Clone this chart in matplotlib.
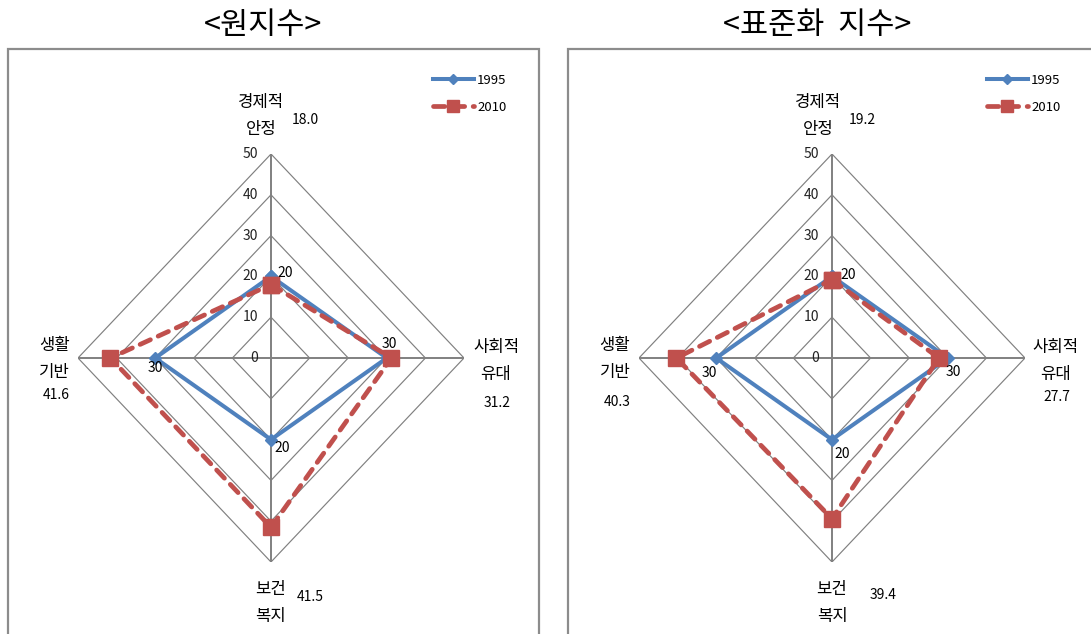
import numpy as np
import matplotlib
matplotlib.use("Agg")
import matplotlib.pyplot as plt
from matplotlib.patches import Rectangle

plt.rcParams['font.family'] = ['Noto Sans CJK KR', 'DejaVu Sans']

# ---- data ----
categories = ['경제적\n안정', '사회적\n유대', '보건\n복지', '생활\n기반']
years = ['1995', '2010']
raw_1995 = [20, 30, 20, 30]
raw_2010 = [18.0, 31.2, 41.5, 41.6]
std_1995 = [20, 30, 20, 30]
std_2010 = [19.2, 27.7, 39.4, 40.3]
ring_values = [0, 10, 20, 30, 40, 50]
panel_titles = ['<원지수>', '<표준화  지수>']

BLUE = '#4F81BD'
RED = '#C0504D'
GRID = '#808080'
FRAME = '#8C8C8C'

W, H = 1091, 634
fig = plt.figure(figsize=(W / 100, H / 100), dpi=100)
fig.patch.set_facecolor('white')


def fx(px):
    return px / W


def fy(py):
    return (H - py) / H


# spoke directions: top, right, bottom, left
angles = np.deg2rad([90, 0, -90, 180])


def to_xy(vals):
    v = np.asarray(vals, dtype=float)
    return v * np.cos(angles), v * np.sin(angles)


# per-panel layout: centre in pixels, label placements in data units
panels = [
    dict(cx=271, title_x=263, box=(8, 539), vals=(raw_1995, raw_2010),
         cat_pos=[(-2.6, 59.3), (58.3, -0.7), (0, -60.0), (-56.0, -0.2)],
         val_pos=[(8.8, 58.3), (58.5, -11.0), (10.1, -58.6), (-55.7, -9.1)],
         lab_off=[(14, 3), (3, 14), (11, -8), (0, -10)],
         legend_x=433),
    dict(cx=832, title_x=817, box=(568, 1110), vals=(std_1995, std_2010),
         cat_pos=[(-3.6, 59.3), (58.0, -0.7), (0, -60.0), (-56.2, -0.2)],
         val_pos=[(7.8, 58.3), (58.3, -9.5), (13.2, -58.1), (-55.7, -10.8)],
         lab_off=[(16, 1), (6, -14), (10, -14), (-7, -15)],
         legend_x=987),
]

RX, RY = 193, 204  # pixel length of the 50 ring, horizontal / vertical
CY = 358

for p, title in zip(panels, panel_titles):
    # panel frame
    x0, x1 = p['box']
    fig.add_artist(Rectangle((fx(x0), fy(H + 20)), fx(x1) - fx(x0), fy(49) - fy(H + 20),
                             transform=fig.transFigure, fill=False,
                             edgecolor=FRAME, linewidth=1.6, clip_on=False))
    fig.text(fx(p['title_x']), fy(25), title, ha='center', va='center',
             fontsize=22, fontweight='normal', color='black')

    ax = fig.add_axes([fx(p['cx'] - RX), fy(CY + RY), 2 * RX / W, 2 * RY / H])
    ax.set_xlim(-50, 50)
    ax.set_ylim(-50, 50)
    ax.axis('off')

    # diamond rings
    for r in ring_values[1:]:
        gx, gy = to_xy([r] * 4)
        ax.plot(np.append(gx, gx[0]), np.append(gy, gy[0]), color=GRID,
                lw=0.85, zorder=1, solid_joinstyle='miter')
    # spokes
    ox, oy = to_xy([ring_values[-1]] * 4)
    for sx, sy in zip(ox, oy):
        ax.plot([0, sx], [0, sy], color=GRID, lw=1.4, zorder=1)
    # ring value labels
    for r in ring_values:
        ax.annotate(f'{r}', (0, r), xytext=(-13, 0), textcoords='offset pixels',
                    ha='right', va='center', fontsize=10, color='#222222')

    v1995, v2010 = p['vals']
    bx, by = to_xy(v1995)
    rx, ry = to_xy(v2010)
    ax.plot(np.append(bx, bx[0]), np.append(by, by[0]), color=BLUE, lw=2.9,
            marker='D', markersize=6.5, zorder=3, label=years[0])
    ax.plot(np.append(rx, rx[0]), np.append(ry, ry[0]), color=RED, lw=3.4,
            linestyle=(0, (2.4, 1.8)), dash_capstyle='round',
            marker='s', markersize=12, zorder=4, label=years[1])

    # 1995 data labels
    for xv, yv, val, off in zip(bx, by, v1995, p['lab_off']):
        ax.annotate(f'{val:g}', (xv, yv), xytext=off, textcoords='offset pixels',
                    ha='center', va='center', fontsize=10, color='black',
                    zorder=5)

    # category names and 2010 values
    for cat, (cxp, cyp), (vx, vy), val in zip(categories, p['cat_pos'],
                                             p['val_pos'], v2010):
        ax.text(cxp, cyp, cat, ha='center', va='center', fontsize=12,
                linespacing=1.75, color='black', clip_on=False)
        ax.text(vx, vy, f'{val:.1f}', ha='center', va='center', fontsize=10,
                color='black', clip_on=False)

    ax.legend(loc='upper left', bbox_to_anchor=(fx(p['legend_x']), fy(74)),
              bbox_transform=fig.transFigure, frameon=False, fontsize=9.5,
              handlelength=3.1, handletextpad=0.25, labelspacing=1.05,
              borderpad=0, borderaxespad=0, markerscale=0.75)

fig.savefig('out.png', dpi=100, facecolor='white')
